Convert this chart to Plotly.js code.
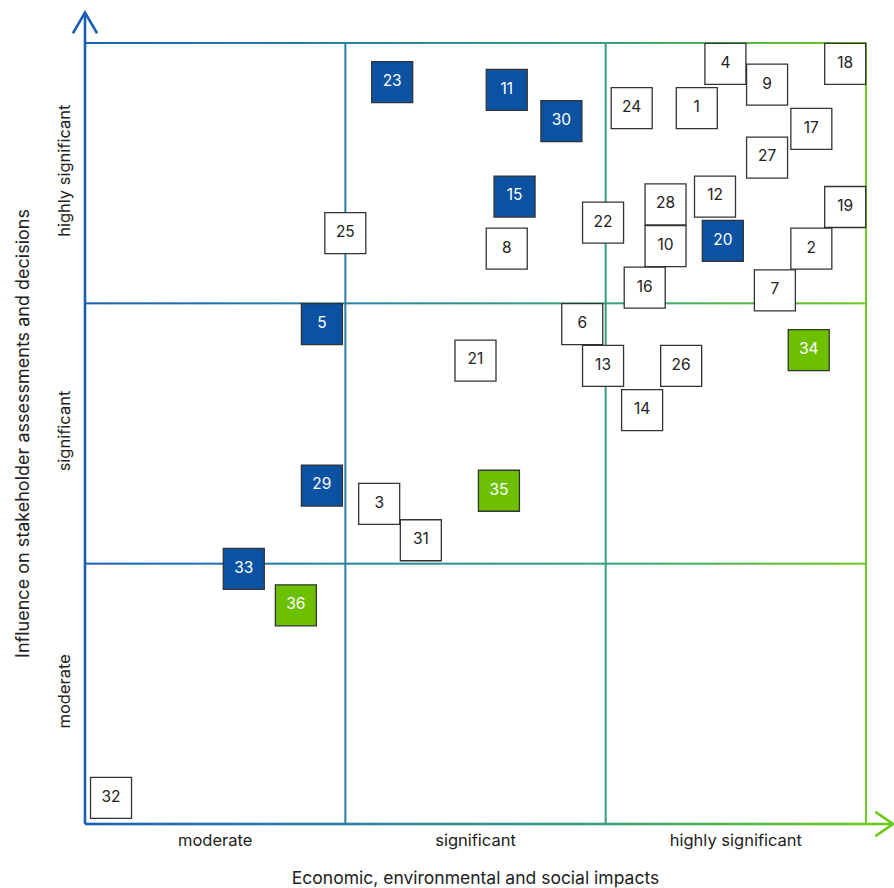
<!DOCTYPE html>
<html>
<head>
<meta charset="utf-8">
<script src="https://cdn.plot.ly/plotly-3.0.1.min.js"></script>
<style>html,body{margin:0;padding:0;background:#fff;}#chart{width:894px;height:888px;}</style>
</head>
<body>
<div id="chart"></div>
<script>
// Data
const ids       = ["1","2","3","4","5","6","7","8","9","10","11","12","13","14","15","16","17","18","19","20","21","22","23","24","25","26","27","28","29","30","31","32","33","34","35","36"];
const impact    = [2.35,2.79,1.13,2.46,0.91,1.91,2.65,1.62,2.62,2.23,1.62,2.42,1.99,2.14,1.65,2.15,2.79,2.92,2.92,2.45,1.50,1.99,1.18,2.10,1.00,2.29,2.62,2.23,0.91,1.83,1.29,0.10,0.61,2.78,1.59,0.81];
const influence = [2.75,2.21,1.23,2.92,1.92,1.92,2.05,2.21,2.84,2.22,2.82,2.41,1.76,1.59,2.41,2.06,2.67,2.92,2.37,2.24,1.78,2.31,2.85,2.75,2.27,1.76,2.56,2.38,1.30,2.70,1.09,0.10,0.98,1.82,1.28,0.84];
const group     = ["none","none","none","none","blue","none","none","none","none","none","blue","none","none","none","blue","none","none","none","none","blue","none","none","blue","none","none","none","none","none","blue","blue","none","none","blue","green","green","green"];
const tickLabels = ["moderate","significant","highly significant"];
const tickPos = [0.5,1.5,2.5];
const xTitle = "Economic, environmental and social impacts";
const yTitle = "Influence on stakeholder assessments and decisions";

const fillMap = {none:"#ffffff", blue:"#0b52a3", green:"#6cc000"};
const textMap = {none:"#222222", blue:"#ffffff", green:"#ffffff"};

// gradient stops along x (paper 0..1)
const stops = [[0,[26,95,180]],[1/3,[42,128,164]],[2/3,[56,160,120]],[1,[108,201,28]]];
function gradColor(t){
  t=Math.max(0,Math.min(1,t));
  for(let i=0;i<stops.length-1;i++){
    const a=stops[i],b=stops[i+1];
    if(t<=b[0]){
      const f=(t-a[0])/(b[0]-a[0]);
      const c=a[1].map((v,k)=>Math.round(v+(b[1][k]-v)*f));
      return "rgb("+c.join(",")+")";
    }
  }
  return "rgb("+stops[stops.length-1][1].join(",")+")";
}

const shapes=[];
// horizontal lines with gradient (segments)
const N=80;
[0,1/3,2/3,1].forEach((yy,idx)=>{
  for(let i=0;i<N;i++){
    const x0=i/N, x1=(i+1)/N;
    shapes.push({type:"line",xref:"paper",yref:"paper",x0:x0,x1:x1+0.0005,y0:yy,y1:yy,
      line:{color:gradColor((x0+x1)/2),width:(idx===0?2.6:2)},layer:"below"});
  }
});
// x-axis extension + arrow
const gEnd=gradColor(1);
shapes.push({type:"line",xref:"paper",yref:"paper",x0:1,x1:1.0346,y0:0,y1:0,line:{color:gEnd,width:2.6}});
shapes.push({type:"path",xref:"paper",yref:"paper",path:"M 1.012,0.0155 L 1.0346,0 L 1.012,-0.0155",line:{color:gEnd,width:2.6},fillcolor:"rgba(0,0,0,0)"});
// vertical lines
[0,1/3,2/3,1].forEach((xx,idx)=>{
  shapes.push({type:"line",xref:"paper",yref:"paper",x0:xx,x1:xx,y0:0,y1:1,
    line:{color:gradColor(xx),width:(idx===0?2.6:2)},layer:"below"});
});
// y-axis extension + arrow
const gStart=gradColor(0);
shapes.push({type:"line",xref:"paper",yref:"paper",x0:0,x1:0,y0:1,y1:1.039,line:{color:gStart,width:2.6}});
shapes.push({type:"path",xref:"paper",yref:"paper",path:"M -0.0155,1.0125 L 0,1.039 L 0.0155,1.0125",line:{color:gStart,width:2.6},fillcolor:"rgba(0,0,0,0)"});

const trace={
  type:"scatter",mode:"markers+text",
  x:impact,y:influence,text:ids,
  textposition:"middle center",
  textfont:{family:"Inter, sans-serif",size:15.5,color:group.map(g=>textMap[g])},
  marker:{symbol:"square",size:41,color:group.map(g=>fillMap[g]),line:{color:"#333333",width:1.3},opacity:1},
  cliponaxis:false,hoverinfo:"none"
};

const layout={
  width:894,height:888,
  margin:{l:85,r:28,t:43,b:64},
  paper_bgcolor:"#ffffff",plot_bgcolor:"#ffffff",
  showlegend:false,
  font:{family:"Inter, sans-serif",color:"#222222"},
  xaxis:{range:[0,3],showgrid:false,zeroline:false,showline:false,
    tickvals:tickPos,ticktext:tickLabels,ticks:"",ticklabelstandoff:4,tickfont:{size:16.5,color:"#222"},
    title:{text:xTitle,font:{size:17.5,color:"#222"},standoff:23},fixedrange:true},
  yaxis:{range:[0,3],showgrid:false,zeroline:false,showline:false,
    tickvals:tickPos,ticktext:tickLabels,ticks:"",tickangle:-90,ticklabelstandoff:11,tickfont:{size:16.5,color:"#222"},
    title:{text:yTitle,font:{size:18,color:"#222"},standoff:19},fixedrange:true},
  shapes:shapes
};

Plotly.newPlot("chart",[trace],layout,{displayModeBar:false,staticPlot:true});
</script>
</body>
</html>
